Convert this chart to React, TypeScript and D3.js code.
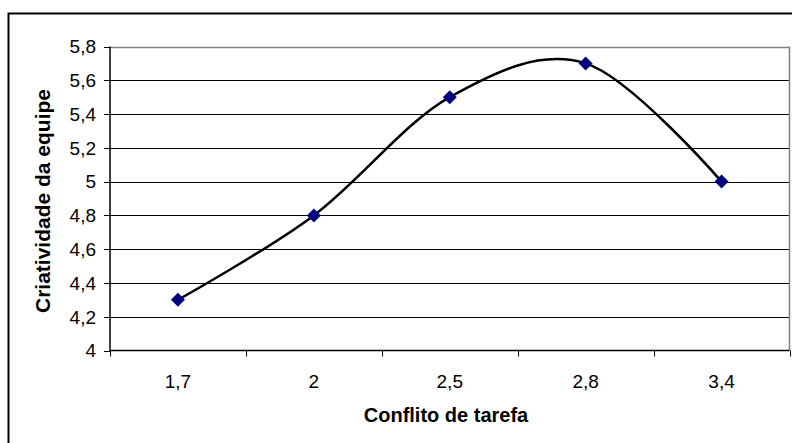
import React from "react";
import * as d3 from "d3";

const categories = ["1,7", "2", "2,5", "2,8", "3,4"];
const values = [4.3, 4.8, 5.5, 5.7, 5.0];
const yTicks = [4, 4.2, 4.4, 4.6, 4.8, 5, 5.2, 5.4, 5.6, 5.8];
const xTitle = "Conflito de tarefa";
const yTitle = "Criatividade da equipe";

export default function App() {
  const W = 792, H = 443;
  const left = 110, right = 789.5, top = 46.5, bottom = 350.5;
  const x = d3.scaleBand<string>().domain(categories).range([left, right]).padding(0);
  const y = d3.scaleLinear().domain([4, 5.8]).range([bottom, top]);
  const pts: [number, number][] = values.map((v, i) => [x(categories[i])! + x.bandwidth() / 2, y(v)]);
  const line = d3.line().curve(d3.curveCardinal.tension(0))(pts) || "";
  const fmt = (v: number) => String(Math.round(v * 10) / 10).replace(".", ",");
  const font = "Arial, 'Liberation Sans', sans-serif";
  const bounds = categories.map((c) => x(c)!).concat([right]);
  return (
    <svg width={W} height={H} style={{ position: "absolute", left: 0, top: 0, background: "#fff" }} fontFamily={font}>
      <rect x={8.5} y={13.5} width={W} height={H} fill="#fff" stroke="#000" strokeWidth={2} />
      {yTicks.slice(1).map((t) => (
        <line key={t} x1={left} x2={right} y1={Math.round(y(t)) + 0.5} y2={Math.round(y(t)) + 0.5}
          stroke={t === 5.8 ? "#808080" : "#000"} strokeWidth={t === 5.8 ? 1.5 : 1} />
      ))}
      <line x1={right} x2={right} y1={top} y2={bottom} stroke="#808080" strokeWidth={1.5} />
      <line x1={left} x2={left} y1={top} y2={bottom + 0.5} stroke="#000" strokeWidth={1.5} />
      <line x1={left} x2={right} y1={bottom} y2={bottom} stroke="#000" strokeWidth={1.5} />
      {yTicks.map((t) => (
        <g key={t}>
          <line x1={left - 6} x2={left} y1={Math.round(y(t)) + 0.5} y2={Math.round(y(t)) + 0.5} stroke="#000" />
          <text x={96} y={y(t)} dy="0.36em" textAnchor="end" fontSize={19}>{fmt(t)}</text>
        </g>
      ))}
      {bounds.map((b, i) => (
        <line key={i} x1={Math.round(b) + 0.5} x2={Math.round(b) + 0.5} y1={bottom} y2={bottom + 6} stroke="#000" />
      ))}
      {categories.map((c) => (
        <text key={c} x={x(c)! + x.bandwidth() / 2} y={388} textAnchor="middle" fontSize={19}>{c}</text>
      ))}
      <path d={line} fill="none" stroke="#000" strokeWidth={2.5} />
      {pts.map(([px, py], i) => (
        <path key={i} d={`M${px},${py - 7}L${px + 7},${py}L${px},${py + 7}L${px - 7},${py}Z`} fill="#000080" />
      ))}
      <text x={446} y={422} textAnchor="middle" fontSize={20} fontWeight="bold">{xTitle}</text>
      <text transform={`translate(50,${201}) rotate(-90)`} textAnchor="middle" fontSize={21} fontWeight="bold">{yTitle}</text>
    </svg>
  );
}
